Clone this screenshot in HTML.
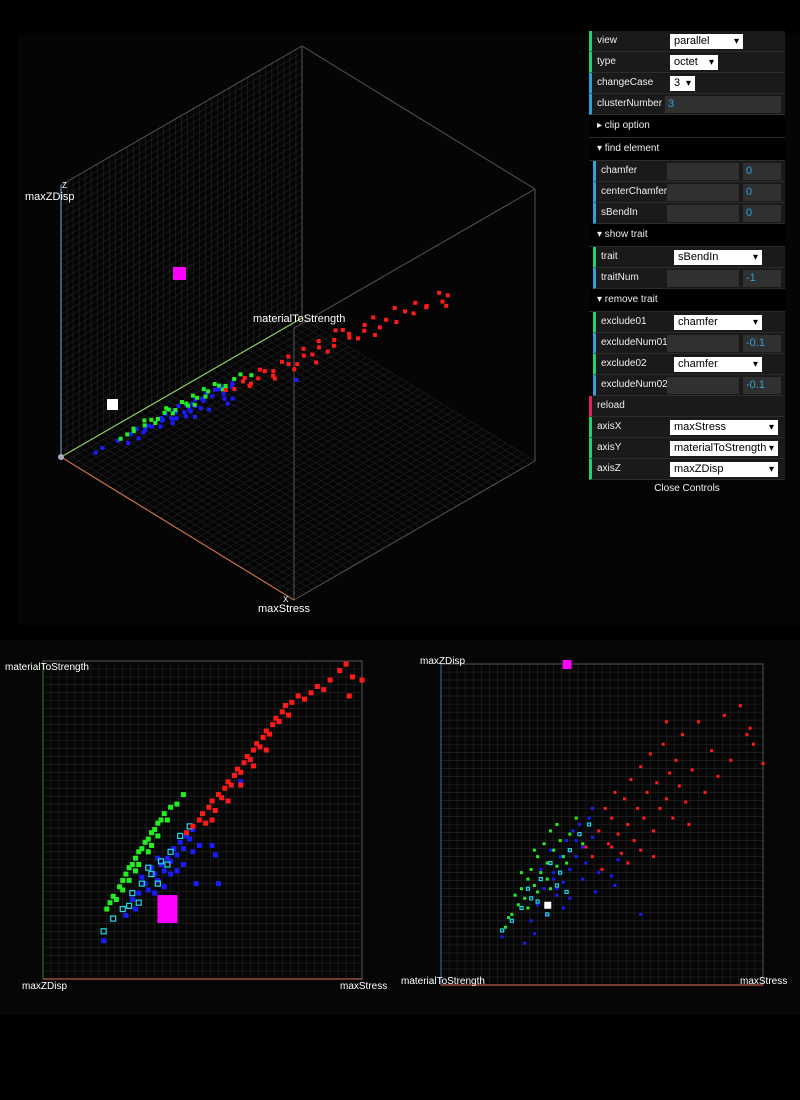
<!DOCTYPE html>
<html><head><meta charset="utf-8"><style>
body{margin:0;background:#000;width:800px;height:1100px;overflow:hidden;font-family:"Liberation Sans",sans-serif}
#gui{position:absolute;left:589px;top:31px;width:196px;font-size:10px;color:#eee}
.r{height:21px;border-bottom:1px solid #2c2c2c;background:#1a1a1a;position:relative;border-left:3px solid #1ed36f;box-sizing:border-box}
.r.n{border-left-color:#2fa1d6}.r.f{border-left-color:#e61d5f}
.r.i{margin-left:4px}
.r .l{position:absolute;left:5px;top:4px}
.sel{position:absolute;top:3px;height:15px;background:#fff;color:#000;font-size:11px;line-height:15px;padding-left:4px;box-sizing:border-box}
.sel:after{content:"▾";position:absolute;right:4px;top:0;font-size:10px}
.in{position:absolute;top:2px;height:17px;background:#303030;color:#2fa1d6;font-size:11px;line-height:17px;padding-left:3px;box-sizing:border-box}
.h{height:22px;line-height:22px;padding-left:8px;border-bottom:1px solid #2c2c2c;background:#000}
</style></head><body>
<div style="position:absolute;left:18px;top:35px;width:782px;height:590px;background:#050505"></div>
<div style="position:absolute;left:0;top:640px;width:800px;height:375px;background:#060606"></div>
<svg id="sv" width="800" height="1100" style="position:absolute;left:0;top:0" font-family="Liberation Sans, sans-serif"></svg>
<div id="gui">
<div class="r"><span class="l">view</span><div class="sel" style="left:78px;width:73px">parallel</div></div>
<div class="r"><span class="l">type</span><div class="sel" style="left:78px;width:48px">octet</div></div>
<div class="r n"><span class="l">changeCase</span><div class="sel" style="left:78px;width:25px">3</div></div>
<div class="r n"><span class="l">clusterNumber</span><div class="in" style="left:73px;width:116px">3</div></div>
<div class="h">▸ clip option</div>
<div class="h">▾ find element</div>
<div class="r n i"><span class="l">chamfer</span><div class="in" style="left:71px;width:72px"></div><div class="in" style="left:147px;width:38px">0</div></div>
<div class="r n i"><span class="l">centerChamfer</span><div class="in" style="left:71px;width:72px"></div><div class="in" style="left:147px;width:38px">0</div></div>
<div class="r n i"><span class="l">sBendIn</span><div class="in" style="left:71px;width:72px"></div><div class="in" style="left:147px;width:38px">0</div></div>
<div class="h">▾ show trait</div>
<div class="r i"><span class="l">trait</span><div class="sel" style="left:78px;width:88px">sBendIn</div></div>
<div class="r n i"><span class="l">traitNum</span><div class="in" style="left:71px;width:72px"></div><div class="in" style="left:147px;width:38px">-1</div></div>
<div class="h">▾ remove trait</div>
<div class="r i"><span class="l">exclude01</span><div class="sel" style="left:78px;width:88px">chamfer</div></div>
<div class="r n i"><span class="l">excludeNum01</span><div class="in" style="left:71px;width:72px"></div><div class="in" style="left:147px;width:38px">-0.1</div></div>
<div class="r i"><span class="l">exclude02</span><div class="sel" style="left:78px;width:88px">chamfer</div></div>
<div class="r n i"><span class="l">excludeNum02</span><div class="in" style="left:71px;width:72px"></div><div class="in" style="left:147px;width:38px">-0.1</div></div>
<div class="r f"><span class="l">reload</span></div>
<div class="r"><span class="l">axisX</span><div class="sel" style="left:78px;width:108px">maxStress</div></div>
<div class="r"><span class="l">axisY</span><div class="sel" style="left:78px;width:108px">materialToStrength</div></div>
<div class="r"><span class="l">axisZ</span><div class="sel" style="left:78px;width:108px">maxZDisp</div></div>
<div style="text-align:center;height:18px;line-height:18px">Close Controls</div>
</div>
<script>
// [maxStress, materialToStrength, maxZDisp] per cluster
const greenPts=[[0.20,0.22,0.18],[0.22,0.26,0.22],[0.24,0.29,0.25],[0.25,0.31,0.30],[0.26,0.33,0.27],[0.27,0.35,0.33],[0.28,0.36,0.36],[0.29,0.38,0.31],[0.30,0.40,0.40],[0.31,0.41,0.35],[0.32,0.43,0.44],[0.33,0.44,0.38],[0.34,0.46,0.48],[0.35,0.47,0.42],[0.36,0.49,0.50],[0.37,0.50,0.45],[0.38,0.52,0.40],[0.40,0.54,0.47],[0.42,0.55,0.52],[0.44,0.58,0.44],[0.23,0.25,0.28],[0.27,0.31,0.24],[0.30,0.36,0.29],[0.33,0.40,0.33],[0.36,0.45,0.37],[0.21,0.24,0.21],[0.25,0.28,0.35],[0.29,0.34,0.42],[0.34,0.42,0.30],[0.39,0.50,0.38]];
const bluePts=[[0.28,0.25,0.20],[0.30,0.27,0.25],[0.32,0.30,0.30],[0.33,0.28,0.22],[0.35,0.33,0.35],[0.36,0.31,0.28],[0.37,0.36,0.40],[0.38,0.34,0.32],[0.39,0.38,0.45],[0.40,0.37,0.36],[0.41,0.41,0.48],[0.42,0.39,0.40],[0.43,0.43,0.50],[0.44,0.41,0.43],[0.45,0.45,0.38],[0.46,0.44,0.52],[0.47,0.47,0.46],[0.34,0.35,0.42],[0.31,0.32,0.36],[0.36,0.38,0.30],[0.40,0.33,0.27],[0.29,0.22,0.16],[0.26,0.20,0.13],[0.19,0.12,0.15],[0.38,0.29,0.24],[0.44,0.36,0.33],[0.49,0.42,0.35],[0.48,0.30,0.29],[0.53,0.42,0.34],[0.54,0.39,0.31],[0.62,0.62,0.22],[0.55,0.30,0.39],[0.35,0.27,0.33],[0.42,0.34,0.45],[0.47,0.40,0.55]];
const cyanPts=[[0.19,0.15,0.17],[0.22,0.19,0.20],[0.25,0.22,0.24],[0.28,0.27,0.27],[0.31,0.30,0.33],[0.34,0.33,0.38],[0.37,0.37,0.35],[0.40,0.40,0.42],[0.43,0.45,0.47],[0.46,0.48,0.50],[0.30,0.24,0.26],[0.36,0.30,0.31],[0.33,0.35,0.22],[0.39,0.36,0.29],[0.27,0.23,0.30]];
const redPts=[[0.47,0.48,0.40],[0.49,0.50,0.48],[0.50,0.52,0.36],[0.51,0.49,0.55],[0.52,0.54,0.44],[0.53,0.56,0.52],[0.54,0.53,0.60],[0.55,0.58,0.47],[0.56,0.57,0.41],[0.57,0.60,0.58],[0.58,0.62,0.50],[0.59,0.61,0.64],[0.60,0.64,0.45],[0.61,0.66,0.55],[0.62,0.65,0.68],[0.63,0.68,0.52],[0.64,0.70,0.60],[0.65,0.69,0.72],[0.66,0.72,0.48],[0.67,0.74,0.63],[0.68,0.73,0.55],[0.69,0.76,0.75],[0.70,0.78,0.58],[0.71,0.77,0.66],[0.72,0.80,0.52],[0.73,0.82,0.70],[0.74,0.81,0.62],[0.75,0.84,0.78],[0.76,0.86,0.57],[0.78,0.87,0.67],[0.80,0.89,0.82],[0.82,0.88,0.60],[0.84,0.90,0.73],[0.86,0.92,0.65],[0.88,0.91,0.84],[0.90,0.94,0.70],[0.93,0.97,0.87],[0.95,0.99,0.78],[0.97,0.95,0.75],[1.00,0.94,0.69],[0.96,0.89,0.80],[0.58,0.56,0.38],[0.62,0.61,0.42],[0.66,0.67,0.40],[0.53,0.50,0.43],[0.70,0.72,0.82],[0.77,0.83,0.50],[0.45,0.46,0.43]];
const traitPt=[0.39,0.22,1.0];
const whitePt=[0.33,0.18,0.25];
const axisNames=["maxStress","materialToStrength","maxZDisp"];

const NS="http://www.w3.org/2000/svg",sv=document.getElementById('sv');
function mk(t,a,name,parent){const e=document.createElementNS(NS,t);for(const k in a)e.setAttribute(k,a[k]);


(parent||sv).appendChild(e);return e;}
function line(x1,y1,x2,y2,c,w,name){return mk('line',{x1,y1,x2,y2,stroke:c,'stroke-width':w},name);}
function txt(x,y,s,name,size){const t=mk('text',{x,y,fill:'#fff','font-size':size||11},name);t.textContent=s;return t;}

// ---- 3D view ----
const O=[61,457],VX=[233,143],VY=[241,-139],VZ=[0,-272];
function P(a,b,c){return [O[0]+a*VX[0]+b*VY[0]+c*VZ[0],O[1]+a*VX[1]+b*VY[1]+c*VZ[1]];}
function gridPlane(fixed,name){const n=40;for(let i=0;i<=n;i++){const t=i/n;
 let p1=fixed(t,0),p2=fixed(t,1);line(p1[0],p1[1],p2[0],p2[1],'#2e2e2e',0.5,name);
 p1=fixed(0,t);p2=fixed(1,t);line(p1[0],p1[1],p2[0],p2[1],'#2e2e2e',0.5,name);}}
gridPlane((s,t)=>P(s,t,0),'floor-grid');
gridPlane((s,t)=>P(0,s,t),'back-grid');
const edges=[[[0,0,1],[0,1,1]],[[0,1,1],[1,1,1]],[[1,1,1],[1,1,0]],[[1,1,0],[1,0,0]],[[1,0,0],[1,0,1]],[[0,1,0],[0,1,1]],[[1,0,1],[1,1,1]]];
edges.forEach(e=>{const a=P(...e[0]),b=P(...e[1]);line(a[0],a[1],b[0],b[1],'#555',1,'cube-edge');});
let a=P(1,0,0);line(O[0],O[1],a[0],a[1],'#c8704a',1.2,'x-axis-line');
a=P(0,1,0);line(O[0],O[1],a[0],a[1],'#8fd060',1.2,'y-axis-line');
a=P(0,0,1);line(O[0],O[1],a[0],a[1],'#6a90c8',1.2,'z-axis-line');
mk('circle',{cx:O[0],cy:O[1],r:3,fill:'#aab'},'origin-dot');
// point projection in 3D (fitted parallel view)
function P3(p){return [30+p[0]*200+p[1]*230, 480-p[0]*20-p[1]*120-p[2]*60];}
function draw3(pts,col,name){pts.forEach(p=>{const s=P3(p);mk('rect',{x:s[0]-2,y:s[1]-2,width:4,height:4,fill:col},name);});}
draw3(bluePts,'#1a1aff','point-3d-blue');draw3(cyanPts,'#1a1aff','point-3d-cyan');
draw3(greenPts,'#22ee22','point-3d-green');draw3(redPts,'#ff1a1a','point-3d-red');
mk('rect',{x:173,y:267,width:13,height:13,fill:'#ff00ff'},'trait-marker-3d');
mk('rect',{x:107,y:399,width:11,height:11,fill:'#fff'},'white-marker-3d');
txt(25,200,'maxZDisp','z-axis-label-3d');txt(62,188,'Z','z-axis-tick-3d',8);
txt(253,322,'materialToStrength','y-axis-label-3d');
txt(258,612,'maxStress','x-axis-label-3d');txt(283,602,'X','x-axis-tick-3d',8);

// ---- 2D plots ----
function plot2(L,T,R,B,yi,size,name){
 const n=40;for(let i=0;i<=n;i++){const x=L+(R-L)*i/n,y=T+(B-T)*i/n;
  line(x,T,x,B,'#262626',0.6,name+'-grid');line(L,y,R,y,'#262626',0.6,name+'-grid');}
 mk('rect',{x:L,y:T,width:R-L,height:B-T,fill:'none',stroke:'#555'},name+'-frame');
 line(L,B,R,B,'#9a4a3a',1.5,name+'-x-axis');line(L,T,L,B,yi==1?'#3d7a2a':'#4a6a9a',1,name+'-y-axis');
 const sx=v=>L+v*(R-L),sy=v=>B-v*(B-T);
 function dr(pts,col,nm,outline){pts.forEach(p=>{
  if(outline)mk('rect',{x:sx(p[0])-size/2,y:sy(p[yi])-size/2,width:size,height:size,fill:'none',stroke:col,'stroke-width':1.2},nm);
  else mk('rect',{x:sx(p[0])-size/2,y:sy(p[yi])-size/2,width:size,height:size,fill:col},nm);});}
 dr(greenPts,'#22ee22',name+'-point-green');dr(bluePts,'#1a1aff',name+'-point-blue');
 dr(cyanPts,'#22d8e8',name+'-point-cyan',true);dr(redPts,'#ff1a1a',name+'-point-red');
 return {sx,sy};
}
const l=plot2(43,661,362,979,1,5,'left-plot');
mk('rect',{x:l.sx(traitPt[0])-10,y:l.sy(traitPt[1])-14,width:20,height:28,fill:'#ff00ff'},'left-plot-trait-marker');
txt(5,670,'materialToStrength','left-plot-y-label',10);txt(22,989,'maxZDisp','left-plot-origin-label',10);txt(340,989,'maxStress','left-plot-x-label',10);
const r=plot2(441,664,763,985,2,3,'right-plot');
mk('rect',{x:r.sx(traitPt[0])-4,y:r.sy(traitPt[2])-4,width:9,height:9,fill:'#ff00ff'},'right-plot-trait-marker');
mk('rect',{x:r.sx(whitePt[0])-3,y:r.sy(whitePt[2])-3,width:7,height:7,fill:'#fff'},'right-plot-white-marker');
txt(420,664,'maxZDisp','right-plot-y-label',10);txt(401,984,'materialToStrength','right-plot-origin-label',10);txt(740,984,'maxStress','right-plot-x-label',10);
</script>
</body></html>
